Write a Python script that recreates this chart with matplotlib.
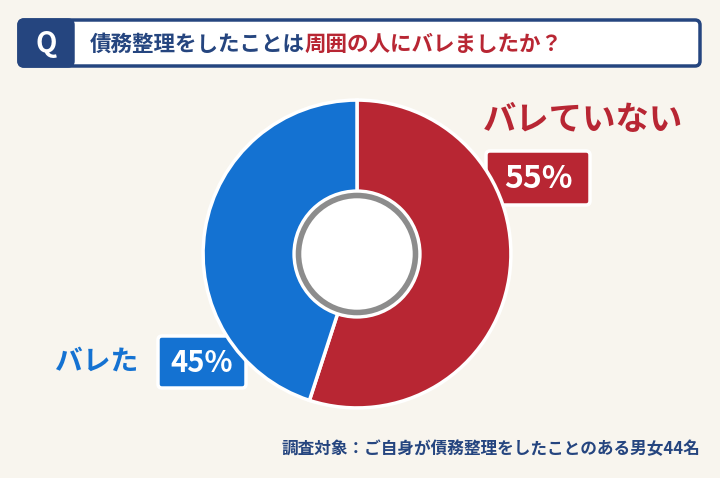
import matplotlib.pyplot as plt
from matplotlib.patches import FancyBboxPatch, Rectangle, Circle

plt.rcParams['font.family'] = 'Noto Sans CJK JP'

labels = ["バレていない", "バレた"]
values = [55, 45]
colors = ["#B82633", "#1472D2"]
navy = "#25457F"
bg = "#F8F5EE"

W, H = 720, 478
fig = plt.figure(figsize=(7.2, 4.78), dpi=100)
fig.patch.set_facecolor(bg)

# overlay axis in pixel coords
ov = fig.add_axes([0, 0, 1, 1])
ov.set_xlim(0, W)
ov.set_ylim(H, 0)
ov.axis('off')

# title box
ov.add_patch(FancyBboxPatch((19, 20), 681, 46, boxstyle="round,pad=0,rounding_size=5",
                            fc="white", ec=navy, lw=2.5))
ov.add_patch(FancyBboxPatch((19, 20), 54, 46, boxstyle="round,pad=0,rounding_size=5",
                            fc=navy, ec=navy, lw=2.5))
ov.add_patch(Rectangle((60, 20), 14, 46, fc=navy, ec='none'))
ov.text(46, 44, "Q", color="white", fontsize=20, fontweight='bold', ha='center', va='center')
t1 = ov.text(90, 44, "債務整理をしたことは", color=navy, fontsize=15.5, fontweight='bold',
             ha='left', va='center')
ov.annotate("周囲の人にバレましたか？", xy=(1, 0.5), xycoords=t1, xytext=(0, 0),
            textcoords='offset points', color="#B82633", fontsize=15.5, fontweight='bold',
            ha='left', va='center')

# pie
cx, cy, r = 357, 254, 157
pax = fig.add_axes([(cx - r) / W, (H - cy - r) / H, 2 * r / W, 2 * r / H])
pax.pie(values, colors=colors, startangle=90, counterclock=False,
        wedgeprops=dict(edgecolor='white', linewidth=2.5))
pax.add_patch(Circle((0, 0), 0.42, fc='white', ec='none', zorder=4))
pax.add_patch(Circle((0, 0), 0.38, fc='white', ec='#8C8C8C', lw=4, zorder=5))
pax.set_xlim(-1.02, 1.02)
pax.set_ylim(-1.02, 1.02)
pax.set_aspect('auto')
pax.axis('off')

# labels
ov.text(583, 120, labels[0], color=colors[0], fontsize=24, fontweight='bold',
        ha='center', va='center')
ov.add_patch(FancyBboxPatch((486, 151), 104, 54, boxstyle="round,pad=0,rounding_size=4",
                            fc=colors[0], ec='white', lw=2.5, zorder=6))
ov.text(538, 179, f"{values[0]}%", color='white', fontsize=23, fontweight='bold',
        ha='center', va='center', zorder=7)

ov.text(97, 362, labels[1], color=colors[1], fontsize=20, fontweight='bold',
        ha='center', va='center')
ov.add_patch(FancyBboxPatch((158, 336), 88, 52, boxstyle="round,pad=0,rounding_size=4",
                            fc=colors[1], ec='white', lw=2.5, zorder=6))
ov.text(202, 363, f"{values[1]}%", color='white', fontsize=21, fontweight='bold',
        ha='center', va='center', zorder=7)

ov.text(700, 449, "調査対象：ご自身が債務整理をしたことのある男女44名", color=navy,
        fontsize=12, fontweight='bold', ha='right', va='center')

fig.savefig("out.png", dpi=100, facecolor=bg)
